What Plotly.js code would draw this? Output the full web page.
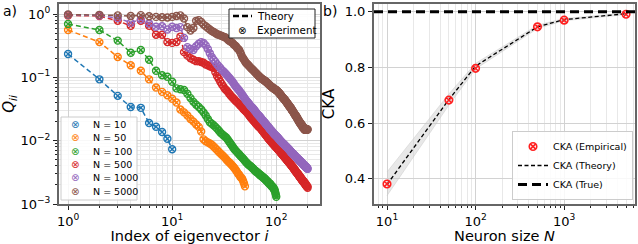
<!DOCTYPE html>
<html><head><meta charset="utf-8">
<script src="https://cdn.plot.ly/plotly-3.0.1.min.js"></script>
<style>html,body{margin:0;padding:0;background:#fff}</style>
</head><body><div id="chart" style="width:638px;height:244px"></div>
<script>
const sizesN = [10, 50, 100, 500, 1000, 5000];
const seriesLabels = ['N = 10', 'N = 50', 'N = 100', 'N = 500', 'N = 1000', 'N = 5000'];
const colors = ['#1f77b4', '#ff7f0e', '#2ca02c', '#d62728', '#9467bd', '#8c564b'];

const q10 = [0.233, 0.093, 0.051, 0.034, 0.033, 0.019, 0.0166, 0.0137, 0.0107, 0.0073];
const q50 = [0.56, 0.36, 0.21, 0.155, 0.127, 0.093, 0.069, 0.059, 0.052, 0.046,
  0.040, 0.031, 0.028, 0.025, 0.022, 0.020, 0.018, 0.0165, 0.0140, 0.0105,
  0.0098, 0.0094, 0.0090, 0.0086, 0.0081, 0.0076, 0.0071, 0.0067, 0.0063, 0.0060,
  0.0057, 0.0054, 0.0051, 0.0048, 0.0046, 0.0044, 0.0042, 0.0040, 0.0038, 0.0036,
  0.0034, 0.0032, 0.0030, 0.0029, 0.0027, 0.0026, 0.0025, 0.0023, 0.0021, 0.0019];
const q100 = [0.695, 0.56, 0.38, 0.245, 0.27, 0.19, 0.127, 0.108, 0.102, 0.085,
  0.067, 0.065, 0.063, 0.055, 0.047, 0.041, 0.037, 0.034, 0.031, 0.028,
  0.025, 0.022, 0.0196, 0.0185, 0.0175, 0.0165, 0.0155, 0.0145, 0.0135, 0.0128,
  0.0122, 0.0117, 0.0112, 0.0105, 0.0098, 0.0092, 0.0086, 0.0081, 0.0076, 0.0072,
  0.0069, 0.0066, 0.0063, 0.0061, 0.0058, 0.0056, 0.0054, 0.0052, 0.0050, 0.0048,
  0.0046, 0.0045, 0.0043, 0.0042, 0.0041, 0.0040, 0.0039, 0.0038, 0.0037, 0.0036,
  0.0035, 0.0034, 0.0033, 0.0033, 0.0032, 0.0031, 0.0031, 0.0030, 0.0029, 0.0029,
  0.0028, 0.0028, 0.0027, 0.0027, 0.0026, 0.0026, 0.0025, 0.0025, 0.0024, 0.0024,
  0.0023, 0.0023, 0.0022, 0.0022, 0.0021, 0.0021, 0.0021, 0.0020, 0.0020, 0.0019,
  0.0019, 0.0019, 0.0018, 0.0018, 0.0017, 0.0017, 0.0016, 0.0015, 0.0014, 0.0013];
const q500 = [0.95, 0.93, 0.78, 0.65, 0.78, 0.65, 0.47, 0.47, 0.36, 0.35,
  0.36, 0.44, 0.25, 0.22, 0.20, 0.19, 0.18, 0.18, 0.175, 0.17,
  0.16, 0.155, 0.15, 0.145, 0.14, 0.12, 0.105, 0.095, 0.085, 0.078,
  0.072, 0.066, 0.063, 0.060, 0.056, 0.053, 0.050, 0.048, 0.046, 0.044,
  0.042, 0.041, 0.039, 0.038, 0.036, 0.035, 0.034, 0.032, 0.031, 0.030,
  0.029, 0.028, 0.027, 0.026, 0.025, 0.024, 0.023, 0.0225, 0.0215, 0.021,
  0.0205, 0.0198, 0.019, 0.0185, 0.018, 0.0175, 0.017, 0.0165, 0.0162, 0.016,
  0.0155, 0.015, 0.0146, 0.0142, 0.0138, 0.0134, 0.013, 0.0127, 0.0124, 0.012,
  0.0117, 0.0114, 0.0111, 0.0108, 0.0106, 0.0103, 0.0101, 0.0099, 0.0097, 0.0095,
  0.0093, 0.0091, 0.0089, 0.0088, 0.0086, 0.0084, 0.0083, 0.0081, 0.0080, 0.0078,
  0.0077, 0.0075, 0.0074, 0.0073, 0.0071, 0.0070, 0.0069, 0.0068, 0.0066, 0.0065,
  0.0064, 0.0063, 0.0062, 0.0061, 0.0060, 0.0059, 0.0058, 0.0057, 0.0056, 0.0055,
  0.0054, 0.0053, 0.0052, 0.0052, 0.0051, 0.0050, 0.0049, 0.0048, 0.0048, 0.0047,
  0.0046, 0.0046, 0.0045, 0.0044, 0.0044, 0.0043, 0.0042, 0.0042, 0.0041, 0.0040,
  0.0040, 0.0039, 0.0039, 0.0038, 0.0038, 0.0037, 0.0036, 0.0036, 0.0035, 0.0035,
  0.0034, 0.0034, 0.0033, 0.0033, 0.0032, 0.0032, 0.0031, 0.0031, 0.0031, 0.0030,
  0.0030, 0.0029, 0.0029, 0.0029, 0.0028, 0.0028, 0.0027, 0.0027, 0.0027, 0.0026,
  0.0026, 0.0026, 0.0025, 0.0025, 0.0025, 0.0024, 0.0024, 0.0024, 0.0023, 0.0023,
  0.0023, 0.0023, 0.0022, 0.0022, 0.0022, 0.0022, 0.0021, 0.0021, 0.0021, 0.0021,
  0.0020, 0.0020, 0.0020, 0.0020, 0.0019, 0.0019, 0.0019, 0.0019, 0.0019, 0.0018];
const q1000 = [0.97, 0.95, 0.86, 0.73, 0.82, 0.71, 0.63, 0.64, 0.57, 0.63,
  0.60, 0.62, 0.42, 0.30, 0.28, 0.27, 0.31, 0.34, 0.36, 0.35,
  0.32, 0.28, 0.24, 0.21, 0.19, 0.175, 0.16, 0.15, 0.14, 0.13,
  0.125, 0.118, 0.112, 0.106, 0.10, 0.095, 0.09, 0.085, 0.08, 0.075,
  0.071, 0.068, 0.065, 0.062, 0.059, 0.056, 0.053, 0.051, 0.048, 0.046,
  0.044, 0.042, 0.041, 0.039, 0.038, 0.036, 0.035, 0.034, 0.033, 0.032,
  0.031, 0.030, 0.029, 0.028, 0.027, 0.026, 0.0255, 0.025, 0.024, 0.0235,
  0.023, 0.022, 0.0215, 0.021, 0.0205, 0.020, 0.0195, 0.019, 0.0185, 0.018,
  0.0176, 0.0172, 0.0168, 0.0164, 0.016, 0.0156, 0.0152, 0.0149, 0.0146, 0.0143,
  0.014, 0.0137, 0.0134, 0.0131, 0.0128, 0.0126, 0.0124, 0.0122, 0.012, 0.0118,
  0.0116, 0.0114, 0.0112, 0.011, 0.0108, 0.0106, 0.0104, 0.0102, 0.0101, 0.0099,
  0.0097, 0.0096, 0.0094, 0.0093, 0.0092, 0.0090, 0.0089, 0.0088, 0.0087, 0.0086,
  0.0084, 0.0083, 0.0082, 0.0081, 0.0080, 0.0079, 0.0078, 0.0077, 0.0076, 0.0075,
  0.0074, 0.0073, 0.0072, 0.0071, 0.0070, 0.0069, 0.0068, 0.0067, 0.0066, 0.0065,
  0.0064, 0.0064, 0.0063, 0.0062, 0.0062, 0.0061, 0.0060, 0.0060, 0.0059, 0.0058,
  0.0058, 0.0057, 0.0056, 0.0056, 0.0055, 0.0055, 0.0054, 0.0053, 0.0053, 0.0052,
  0.0052, 0.0051, 0.0051, 0.0050, 0.0050, 0.0049, 0.0049, 0.0048, 0.0048, 0.0047,
  0.0047, 0.0046, 0.0046, 0.0046, 0.0045, 0.0045, 0.0044, 0.0044, 0.0043, 0.0043,
  0.0043, 0.0042, 0.0042, 0.0041, 0.0041, 0.0041, 0.0040, 0.0040, 0.0040, 0.0039,
  0.0039, 0.0039, 0.0038, 0.0038, 0.0038, 0.0037, 0.0037, 0.0037, 0.0036, 0.0036];
const q5000 = [0.98, 0.97, 0.95, 0.93, 0.96, 0.92, 0.90, 0.89, 0.88, 0.90,
  0.93, 0.95, 0.85, 0.62, 0.55, 0.60, 0.78, 0.80, 0.75, 0.68,
  0.64, 0.60, 0.57, 0.54, 0.52, 0.50, 0.48, 0.47, 0.46, 0.45,
  0.44, 0.43, 0.42, 0.40, 0.38, 0.37, 0.36, 0.35, 0.33, 0.32,
  0.31, 0.29, 0.28, 0.27, 0.25, 0.23, 0.21, 0.20, 0.19, 0.18,
  0.17, 0.165, 0.16, 0.155, 0.15, 0.145, 0.14, 0.137, 0.133, 0.13,
  0.126, 0.122, 0.119, 0.116, 0.113, 0.11, 0.107, 0.105, 0.102, 0.10,
  0.098, 0.096, 0.094, 0.093, 0.092, 0.090, 0.089, 0.088, 0.086, 0.085,
  0.083, 0.082, 0.080, 0.079, 0.077, 0.076, 0.074, 0.073, 0.072, 0.071,
  0.070, 0.069, 0.068, 0.067, 0.066, 0.066, 0.065, 0.064, 0.063, 0.063,
  0.062, 0.061, 0.060, 0.059, 0.058, 0.057, 0.056, 0.055, 0.054, 0.053,
  0.052, 0.051, 0.050, 0.049, 0.048, 0.047, 0.047, 0.046, 0.045, 0.045,
  0.044, 0.043, 0.042, 0.042, 0.041, 0.040, 0.039, 0.039, 0.038, 0.037,
  0.037, 0.036, 0.035, 0.035, 0.034, 0.034, 0.033, 0.033, 0.032, 0.031,
  0.031, 0.030, 0.030, 0.029, 0.029, 0.028, 0.028, 0.027, 0.027, 0.026,
  0.026, 0.025, 0.025, 0.025, 0.024, 0.024, 0.023, 0.023, 0.023, 0.022,
  0.022, 0.021, 0.021, 0.021, 0.020, 0.020, 0.020, 0.019, 0.019, 0.019,
  0.019, 0.018, 0.018, 0.018, 0.018, 0.017, 0.017, 0.017, 0.017, 0.016,
  0.016, 0.016, 0.016, 0.016, 0.016, 0.015, 0.015, 0.015, 0.015, 0.015,
  0.015, 0.015, 0.015, 0.015, 0.015, 0.015, 0.015, 0.015, 0.015, 0.015];
const qSeries = [q10, q50, q100, q500, q1000, q5000];

const ckaN = [10, 50, 100, 500, 1000, 5000];
const ckaEmpirical = [0.382, 0.683, 0.797, 0.946, 0.970, 0.991];
const ckaTheory = [0.380, 0.685, 0.805, 0.946, 0.972, 0.993];
const ckaBandLow = [0.340, 0.665, 0.795, 0.940, 0.968, 0.990];
const ckaBandHigh = [0.425, 0.705, 0.815, 0.952, 0.976, 0.995];
const ckaTrue = 1.0;

const xTicksA = [1, 10, 100];
const xTickTextA = ['10<sup>0</sup>', '10<sup>1</sup>', '10<sup>2</sup>'];
const yTicksA = [0.001, 0.01, 0.1, 1];
const yTickTextA = ['10<sup>\u22123</sup>', '10<sup>\u22122</sup>', '10<sup>\u22121</sup>', '10<sup>0</sup>'];
const xTicksB = [10, 100, 1000];
const xTickTextB = ['10<sup>1</sup>', '10<sup>2</sup>', '10<sup>3</sup>'];
const yTicksB = [0.4, 0.6, 0.8, 1.0];
const yTickTextB = ['0.4', '0.6', '0.8', '1.0'];

function minorLogTicks(p0, p1) {
  const out = [];
  for (let p = p0; p <= p1; p++) for (let m = 2; m <= 9; m++) out.push(m * Math.pow(10, p));
  return out;
}

const W = 638, H = 244;
const px = v => v / W, py = v => 1 - v / H;
const FONT = 'DejaVu Sans, sans-serif';
const frame = '#666666';

const traces = [];
qSeries.forEach((q, k) => {
  const idx = q.map((_, j) => j + 1);
  traces.push({x: idx, y: q, xaxis: 'x', yaxis: 'y', mode: 'lines', showlegend: false,
    line: {color: colors[k], width: 1.5, dash: '5px,3px'}, hoverinfo: 'skip'});
});
qSeries.forEach((q, k) => {
  const idx = q.map((_, j) => j + 1);
  traces.push({x: idx, y: q, xaxis: 'x', yaxis: 'y', mode: 'markers', showlegend: false,
    name: seriesLabels[k],
    marker: {symbol: 'circle-x-open', size: 7, color: colors[k], line: {width: 1.4, color: colors[k]}}});
});

traces.push({x: ckaN, y: ckaBandLow, xaxis: 'x2', yaxis: 'y2', mode: 'lines', showlegend: false,
  line: {color: 'rgba(200,200,200,0.6)', width: 0.8}, hoverinfo: 'skip'});
traces.push({x: ckaN, y: ckaBandHigh, xaxis: 'x2', yaxis: 'y2', mode: 'lines', showlegend: false,
  fill: 'tonexty', fillcolor: 'rgba(205,205,205,0.45)',
  line: {color: 'rgba(200,200,200,0.6)', width: 0.8}, hoverinfo: 'skip'});
traces.push({x: ckaN, y: ckaTheory, xaxis: 'x2', yaxis: 'y2', mode: 'lines', name: 'CKA (Theory)',
  legendrank: 2, line: {color: 'black', width: 1.3, dash: '4px,2.5px'}});
traces.push({x: ckaN, y: ckaEmpirical, xaxis: 'x2', yaxis: 'y2', mode: 'markers', name: 'CKA (Empirical)',
  legendrank: 1, marker: {symbol: 'circle-x-open', size: 7.5, color: '#ff2020', line: {width: 1.6, color: '#ff2020'}}});

const axisCommon = {
  showline: true, mirror: true, linecolor: frame, linewidth: 2,
  ticks: 'outside', ticklen: 4, tickwidth: 1, tickcolor: '#222',
  showgrid: true, gridcolor: '#d2d2d2', gridwidth: 1, zeroline: false,
  tickfont: {family: FONT, size: 13, color: '#000'}, tickmode: 'array'
};

const shapes = [];
const annotations = [];

// legend "Theory / Experiment" (panel a)
shapes.push({type: 'rect', xref: 'paper', yref: 'paper', x0: px(229), x1: px(315), y0: py(38), y1: py(9),
  fillcolor: 'rgba(255,255,255,0.9)', line: {color: '#222', width: 1}});
shapes.push({type: 'line', xref: 'paper', yref: 'paper', x0: px(233), x1: px(252), y0: py(16), y1: py(16),
  line: {color: 'black', width: 2.5, dash: '6px,3px'}});
annotations.push({xref: 'paper', yref: 'paper', x: px(242), y: py(30), text: '\u2297', showarrow: false,
  xanchor: 'center', yanchor: 'middle', font: {family: FONT, size: 10, color: 'black'}});
annotations.push({xref: 'paper', yref: 'paper', x: px(255), y: py(16), text: 'Theory', showarrow: false,
  xanchor: 'left', yanchor: 'middle', font: {family: FONT, size: 10.3, color: 'black'}});
annotations.push({xref: 'paper', yref: 'paper', x: px(255), y: py(30), text: 'Experiment', showarrow: false,
  xanchor: 'left', yanchor: 'middle', font: {family: FONT, size: 10.3, color: 'black'}});

// legend of sizes (panel a)
shapes.push({type: 'rect', xref: 'paper', yref: 'paper', x0: px(61), x1: px(137), y0: py(200), y1: py(117),
  fillcolor: 'rgba(255,255,255,0.85)', line: {color: '#cccccc', width: 1}});
seriesLabels.forEach((lab, k) => {
  const yc = 124.5 + k * 13.3;
  annotations.push({xref: 'paper', yref: 'paper', x: px(75), y: py(yc), text: '\u2297', showarrow: false,
    xanchor: 'center', yanchor: 'middle', font: {family: FONT, size: 10, color: colors[k]}});
  annotations.push({xref: 'paper', yref: 'paper', x: px(91), y: py(yc), text: lab, showarrow: false,
    xanchor: 'left', yanchor: 'middle', font: {family: FONT, size: 9.5, color: 'black'}});
});

// CKA true line (panel b)
shapes.push({type: 'line', xref: 'x2 domain', yref: 'y2', x0: 0, x1: 1, y0: ckaTrue, y1: ckaTrue,
  line: {color: 'black', width: 3, dash: '9px,5px'}, layer: 'above',
  showlegend: true, name: 'CKA (True)', legendrank: 3});

annotations.push({xref: 'paper', yref: 'paper', x: px(1), y: py(11), text: 'a)', showarrow: false,
  xanchor: 'left', yanchor: 'middle', font: {family: FONT, size: 14, color: 'black'}});
annotations.push({xref: 'paper', yref: 'paper', x: px(321), y: py(11), text: 'b)', showarrow: false,
  xanchor: 'left', yanchor: 'middle', font: {family: FONT, size: 14, color: 'black'}});

const layout = {
  width: W, height: H, margin: {l: 0, r: 0, t: 0, b: 0},
  paper_bgcolor: '#fff', plot_bgcolor: '#fff',
  font: {family: FONT, color: '#000'},
  showlegend: true,
  legend: {x: px(633), y: py(200), xanchor: 'right', yanchor: 'bottom', traceorder: 'normal',
    bgcolor: 'rgba(255,255,255,0.85)', bordercolor: '#cccccc', borderwidth: 1,
    font: {family: FONT, size: 9.5}, tracegroupgap: 0, itemwidth: 30},
  xaxis: Object.assign({}, axisCommon, {
    type: 'log', domain: [px(59), px(320)], range: [-0.087, 2.42], anchor: 'y',
    tickvals: xTicksA, ticktext: xTickTextA,
    minor: {tickmode: 'array', tickvals: minorLogTicks(0, 2), ticks: 'outside', ticklen: 2, tickcolor: '#222',
      showgrid: true, gridcolor: '#e8e8e8', gridwidth: 1},
    title: {text: 'Index of eigenvector <i>i</i>', font: {family: FONT, size: 14.5}, standoff: 1}
  }),
  yaxis: Object.assign({}, axisCommon, {
    type: 'log', domain: [py(204), py(4)], range: [-3, 0.158], anchor: 'x',
    tickvals: yTicksA, ticktext: yTickTextA,
    minor: {tickmode: 'array', tickvals: minorLogTicks(-3, -1), ticks: 'outside', ticklen: 2, tickcolor: '#222',
      showgrid: true, gridcolor: '#e8e8e8', gridwidth: 1},
    title: {text: '<i>Q</i><sub><i>ii</i></sub>', font: {family: FONT, size: 15}, standoff: 2}
  }),
  xaxis2: Object.assign({}, axisCommon, {
    type: 'log', domain: [px(374), px(635)], range: [0.853, 3.80], anchor: 'y2',
    tickvals: xTicksB, ticktext: xTickTextB,
    minor: {tickmode: 'array', tickvals: minorLogTicks(0, 3), ticks: 'outside', ticklen: 2, tickcolor: '#222',
      showgrid: true, gridcolor: '#e8e8e8', gridwidth: 1},
    title: {text: 'Neuron size <i>N</i>', font: {family: FONT, size: 14.5}, standoff: 1}
  }),
  yaxis2: Object.assign({}, axisCommon, {
    domain: [py(204), py(4)], range: [0.31, 1.028], anchor: 'x2',
    tickvals: yTicksB, ticktext: yTickTextB,
    title: {text: 'CKA', font: {family: FONT, size: 15}, standoff: 6}
  }),
  shapes: shapes,
  annotations: annotations
};

Plotly.newPlot('chart', traces, layout, {displayModeBar: false, staticPlot: true});
</script></body></html>
